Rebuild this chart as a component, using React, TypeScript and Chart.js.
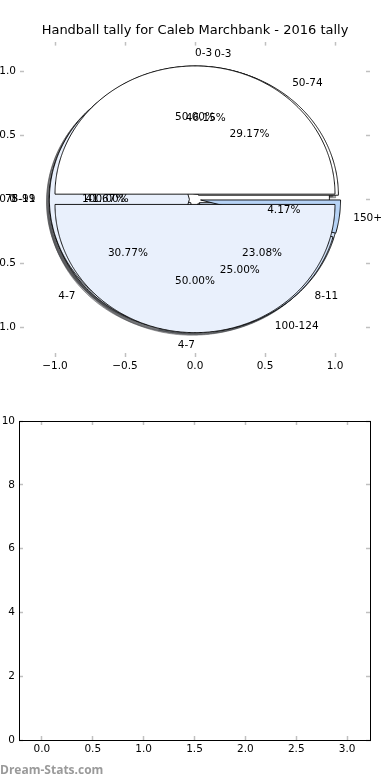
import React, { useEffect, useRef } from "react";
import { Chart, registerables } from "chart.js";

Chart.register(...registerables);

const TITLE = "Handball tally for Caleb Marchbank - 2016 tally";
const WATERMARK = "Dream-Stats.com";

// Four pies drawn over each other (bottom first)
const PIE_D_LABELS = ["8-11"];
const PIE_D_VALUES = [100.0];
const PIE_B_LABELS = ["0-3", "4-7", "8-11"];
const PIE_B_VALUES = [46.15, 30.77, 23.08];
const PIE_C_LABELS = ["50-74", "75-99", "100-124", "150+"];
const PIE_C_VALUES = [29.17, 41.67, 25.0, 4.17];
const PIE_A_LABELS = ["0-3", "4-7"];
const PIE_A_VALUES = [50.0, 50.0];

const WEDGE_COLORS = ["#ffffff", "#e9f0fc", "#d2e2f8", "#b6d3f6"];

const TOP_X_TICKS = [-1.0, -0.5, 0.0, 0.5, 1.0];
const TOP_Y_TICKS = [-1.0, -0.5, 0.0, 0.5, 1.0];
const BOTTOM_X_TICKS = [0.0, 0.5, 1.0, 1.5, 2.0, 2.5, 3.0];
const BOTTOM_Y_TICKS = [0, 2, 4, 6, 8, 10];

const PIES = [
  { labels: PIE_D_LABELS, values: PIE_D_VALUES },
  { labels: PIE_B_LABELS, values: PIE_B_VALUES },
  { labels: PIE_C_LABELS, values: PIE_C_VALUES },
  { labels: PIE_A_LABELS, values: PIE_A_VALUES },
];

const EXPLODE = 0.04;
const SHADOW_D = -0.02;
const FONT = "DejaVu Sans";

type Wedge = { t1: number; t2: number; mid: number; ox: number; oy: number; i: number; pct: number };

function buildWedges(values: number[]): Wedge[] {
  const total = values.reduce((a, b) => a + b, 0);
  let acc = 0;
  return values.map((v, i) => {
    const t1 = (2 * Math.PI * acc) / total;
    acc += v;
    const t2 = (2 * Math.PI * acc) / total;
    const mid = (t1 + t2) / 2;
    return { t1, t2, mid, ox: EXPLODE * Math.cos(mid), oy: EXPLODE * Math.sin(mid), i, pct: (v / total) * 100 };
  });
}

function tracePath(ctx: CanvasRenderingContext2D, xs: any, ys: any, w: Wedge, dx: number, dy: number) {
  const cx = w.ox + dx;
  const cy = w.oy + dy;
  const full = w.t2 - w.t1 >= 2 * Math.PI - 1e-9;
  ctx.beginPath();
  if (!full) ctx.moveTo(xs.getPixelForValue(cx), ys.getPixelForValue(cy));
  const n = Math.max(8, Math.ceil((w.t2 - w.t1) / (Math.PI / 360)));
  for (let k = 0; k <= n; k++) {
    const t = w.t1 + ((w.t2 - w.t1) * k) / n;
    const px = xs.getPixelForValue(cx + Math.cos(t));
    const py = ys.getPixelForValue(cy + Math.sin(t));
    if (k === 0 && full) ctx.moveTo(px, py);
    else ctx.lineTo(px, py);
  }
  ctx.closePath();
}

function shadowColor(hex: string) {
  const r = parseInt(hex.slice(1, 3), 16);
  const g = parseInt(hex.slice(3, 5), 16);
  const b = parseInt(hex.slice(5, 7), 16);
  return `rgba(${Math.round(r * 0.3)},${Math.round(g * 0.3)},${Math.round(b * 0.3)},0.5)`;
}

const piePlugin = {
  id: "overlaidPies",
  afterDatasetsDraw(chart: any) {
    const xs = chart.scales.x;
    const ys = chart.scales.y;
    const ctx: CanvasRenderingContext2D = chart.ctx;
    const all = PIES.map((p) => ({ p, ws: buildWedges(p.values) }));
    ctx.save();
    // shadows beneath every wedge
    all.forEach(({ ws }) =>
      ws.forEach((w) => {
        tracePath(ctx, xs, ys, w, SHADOW_D, SHADOW_D);
        const c = shadowColor(WEDGE_COLORS[w.i % WEDGE_COLORS.length]);
        ctx.fillStyle = c;
        ctx.fill();
        ctx.strokeStyle = c;
        ctx.lineWidth = 0.9;
        ctx.stroke();
      })
    );
    // wedges
    all.forEach(({ ws }) =>
      ws.forEach((w) => {
        tracePath(ctx, xs, ys, w, 0, 0);
        ctx.fillStyle = WEDGE_COLORS[w.i % WEDGE_COLORS.length];
        ctx.fill();
        ctx.lineWidth = 0.9;
        ctx.strokeStyle = "#000";
        ctx.lineJoin = "miter";
        ctx.stroke();
      })
    );
    // texts
    ctx.fillStyle = "#000";
    ctx.font = `10.5px "${FONT}"`;
    ctx.textBaseline = "middle";
    all.forEach(({ p, ws }) =>
      ws.forEach((w) => {
        const lx = w.ox + 1.1 * Math.cos(w.mid);
        const ly = w.oy + 1.1 * Math.sin(w.mid);
        ctx.textAlign = lx > 0 ? "left" : "right";
        ctx.fillText(p.labels[w.i], xs.getPixelForValue(lx), ys.getPixelForValue(ly));
        const px = w.ox + 0.6 * Math.cos(w.mid);
        const py = w.oy + 0.6 * Math.sin(w.mid);
        ctx.textAlign = "center";
        ctx.fillText(w.pct.toFixed(2) + "%", xs.getPixelForValue(px), ys.getPixelForValue(py));
      })
    );
    ctx.restore();
  },
};

const fmt1 = (v: any) => {
  const n = Number(v);
  return (n < 0 ? "\u2212" : "") + Math.abs(n).toFixed(1);
};

const tickFont = { family: FONT, size: 10.5 };

function tickGrid() {
  return {
    display: true,
    drawOnChartArea: false,
    drawTicks: true,
    tickLength: -4,
    tickColor: "#c0c0c0",
    tickWidth: 1.5,
  };
}

function axis(opts: any) {
  const { ticksArr, min, max, position, size, labels, fmt, border, padding } = opts;
  const horizontal = position === "top" || position === "bottom";
  return {
    type: "linear",
    position,
    min,
    max,
    afterBuildTicks: (s: any) => {
      s.ticks = ticksArr.map((v: number) => ({ value: v }));
    },
    afterFit: (s: any) => {
      if (horizontal) s.height = size;
      else s.width = size;
    },
    grid: tickGrid(),
    border: border ? { display: true, color: "#000", width: 1 } : { display: false },
    ticks: {
      display: labels,
      autoSkip: false,
      maxRotation: 0,
      minRotation: 0,
      color: "#000",
      font: tickFont,
      padding,
      callback: fmt,
    },
  };
}

export default function App() {
  const topRef = useRef<HTMLCanvasElement>(null);
  const botRef = useRef<HTMLCanvasElement>(null);

  useEffect(() => {
    const top = new Chart(topRef.current as HTMLCanvasElement, {
      type: "scatter",
      data: { datasets: [] },
      options: {
        animation: false,
        responsive: false,
        maintainAspectRatio: false,
        layout: { padding: 0 },
        plugins: {
          legend: { display: false },
          tooltip: { enabled: false },
          title: {
            display: true,
            text: TITLE,
            color: "#000",
            font: { family: FONT, size: 13, weight: "normal" },
            padding: { top: 23, bottom: 3 },
          },
        },
        scales: {
          x: axis({ ticksArr: TOP_X_TICKS, min: -1.25, max: 1.25, position: "bottom", size: 35, labels: true, fmt: fmt1, border: false, padding: 7 }),
          x2: axis({ ticksArr: TOP_X_TICKS, min: -1.25, max: 1.25, position: "top", size: 0, labels: false, fmt: fmt1, border: false, padding: 0 }),
          y: axis({ ticksArr: TOP_Y_TICKS, min: -1.23, max: 1.23, position: "left", size: 20, labels: true, fmt: fmt1, border: false, padding: 8 }),
          y2: axis({ ticksArr: TOP_Y_TICKS, min: -1.23, max: 1.23, position: "right", size: 20, labels: false, fmt: fmt1, border: false, padding: 0 }),
        },
      } as any,
      plugins: [piePlugin],
    });

    const bottom = new Chart(botRef.current as HTMLCanvasElement, {
      type: "scatter",
      data: { datasets: [] },
      options: {
        animation: false,
        responsive: false,
        maintainAspectRatio: false,
        layout: { padding: { top: 21, left: 0, right: 0, bottom: 0 } },
        plugins: { legend: { display: false }, tooltip: { enabled: false } },
        scales: {
          x: axis({ ticksArr: BOTTOM_X_TICKS, min: -0.225, max: 3.225, position: "bottom", size: 40, labels: true, fmt: fmt1, border: true, padding: 7 }),
          x2: axis({ ticksArr: BOTTOM_X_TICKS, min: -0.225, max: 3.225, position: "top", size: 0, labels: false, fmt: fmt1, border: true, padding: 0 }),
          y: axis({ ticksArr: BOTTOM_Y_TICKS, min: 0, max: 10, position: "left", size: 19, labels: true, fmt: (v: any) => String(Math.round(Number(v))), border: true, padding: 8 }),
          y2: axis({ ticksArr: BOTTOM_Y_TICKS, min: 0, max: 10, position: "right", size: 20, labels: false, fmt: (v: any) => String(v), border: true, padding: 0 }),
        },
      } as any,
    });

    return () => {
      top.destroy();
      bottom.destroy();
    };
  }, []);

  return (
    <div style={{ position: "absolute", left: 0, top: 0, width: 390, height: 780, background: "#fff", overflow: "hidden" }}>
      <canvas ref={topRef} width={390} height={392} style={{ position: "absolute", left: 0, top: 0, width: 390, height: 392 }} />
      <canvas ref={botRef} width={390} height={380} style={{ position: "absolute", left: 0, top: 400, width: 390, height: 380 }} />
      <div
        style={{
          position: "absolute",
          left: 0,
          top: 762,
          fontFamily: "'Open Sans', 'DejaVu Sans', sans-serif",
          fontWeight: 700,
          fontSize: 12,
          color: "#9a9a9a",
          lineHeight: "16px",
          whiteSpace: "nowrap",
        }}
      >
        {WATERMARK}
      </div>
    </div>
  );
}
